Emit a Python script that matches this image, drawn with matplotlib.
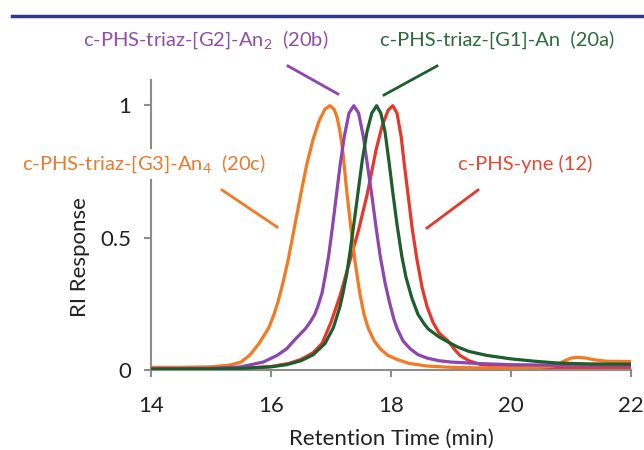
import matplotlib
matplotlib.use("Agg")
import matplotlib.pyplot as plt
from matplotlib.lines import Line2D

plt.rcParams['font.family'] = ['Lato', 'DejaVu Sans']
plt.rcParams['mathtext.fontset'] = 'custom'
plt.rcParams['mathtext.rm'] = 'Lato'
plt.rcParams['mathtext.it'] = 'Lato'

# ---- data ----
x_20c = [14.0, 14.5, 15.0, 15.3, 15.5, 15.65, 15.8, 15.96, 16.05, 16.12, 16.2, 16.29, 16.4, 16.51,
         16.6, 16.7, 16.8, 16.9, 16.98, 17.05, 17.1, 17.15, 17.2, 17.26, 17.33, 17.4, 17.48, 17.55,
         17.62, 17.72, 17.82, 17.95, 18.1, 18.3, 18.6, 19.0, 19.5, 20.0, 20.5, 20.7, 20.85, 21.0,
         21.1, 21.25, 21.4, 21.6, 22.0]
y_20c = [0.010, 0.010, 0.012, 0.018, 0.030, 0.057, 0.100, 0.158, 0.210, 0.260, 0.330, 0.420, 0.550, 0.680,
         0.780, 0.870, 0.940, 0.985, 0.998, 0.985, 0.955, 0.900, 0.820, 0.680, 0.540, 0.410, 0.290, 0.210,
         0.158, 0.110, 0.080, 0.055, 0.040, 0.025, 0.015, 0.010, 0.008, 0.008, 0.010, 0.015, 0.030, 0.045,
         0.048, 0.045, 0.038, 0.033, 0.032]

x_20b = [14.0, 15.0, 15.5, 15.87, 16.1, 16.26, 16.42, 16.57, 16.65, 16.73, 16.78, 16.85, 16.9, 16.96,
         17.03, 17.09, 17.15, 17.22, 17.3, 17.38, 17.46, 17.54, 17.61, 17.68, 17.75, 17.82, 17.9,
         17.97, 18.05, 18.1, 18.2, 18.32, 18.45, 18.6, 18.8, 19.0, 19.5, 20.0, 21.0, 22.0]
y_20b = [0.005, 0.006, 0.012, 0.030, 0.055, 0.080, 0.120, 0.155, 0.180, 0.210, 0.240, 0.290, 0.350, 0.430,
         0.550, 0.660, 0.770, 0.880, 0.970, 0.998, 0.970, 0.880, 0.770, 0.660, 0.540, 0.430, 0.330,
         0.260, 0.190, 0.158, 0.110, 0.080, 0.058, 0.045, 0.035, 0.030, 0.024, 0.020, 0.018, 0.017]

x_20a = [14.0, 15.0, 15.5, 16.0, 16.26, 16.5, 16.7, 16.9, 17.04, 17.15, 17.2, 17.26, 17.32, 17.38,
         17.45, 17.52, 17.6, 17.68, 17.76, 17.83, 17.9, 17.97, 18.03, 18.1, 18.18, 18.25, 18.35,
         18.45, 18.55, 18.62, 18.8, 18.9, 19.1, 19.3, 19.6, 20.0, 20.4, 20.8, 21.3, 22.0]
y_20a = [0.003, 0.004, 0.006, 0.012, 0.020, 0.035, 0.057, 0.100, 0.160, 0.240, 0.290, 0.360, 0.450, 0.550,
         0.670, 0.790, 0.900, 0.970, 0.998, 0.970, 0.900, 0.780, 0.670, 0.550, 0.430, 0.350, 0.270,
         0.210, 0.175, 0.155, 0.125, 0.112, 0.088, 0.070, 0.055, 0.042, 0.033, 0.026, 0.023, 0.022]

x_12 = [14.0, 15.0, 15.5, 16.0, 16.3, 16.5, 16.7, 16.85, 17.0, 17.15, 17.3, 17.45, 17.6, 17.68, 17.75,
        17.85, 17.95, 18.03, 18.1, 18.17, 18.22, 18.28, 18.35, 18.43, 18.52, 18.6, 18.7, 18.8, 18.95,
        19.05, 19.15, 19.3, 19.5, 20.0, 21.0, 22.0]
y_12 = [0.002, 0.003, 0.006, 0.013, 0.025, 0.040, 0.065, 0.100, 0.180, 0.280, 0.400, 0.520, 0.660, 0.750, 0.830,
        0.920, 0.980, 0.998, 0.970, 0.880, 0.780, 0.670, 0.540, 0.420, 0.310, 0.240, 0.180, 0.140, 0.110,
        0.080, 0.055, 0.035, 0.020, 0.010, 0.008, 0.007]

x_ticks = [14, 16, 18, 20, 22]
y_ticks = [0, 0.5, 1]
y_tick_labels = ['0', '0.5', '1']

C_ORANGE = '#f47920'
C_PURPLE = '#8d45b0'
C_GREEN = '#1c5e2c'
C_RED = '#e8372a'

fig = plt.figure(figsize=(6.44, 4.5), dpi=100)
ax = fig.add_axes([151/644, 80/450, 480/644, 290/450])

lw = 2.3
kw = dict(lw=lw, solid_joinstyle='round', solid_capstyle='round')
ax.plot(x_20c, y_20c, color=C_ORANGE, zorder=3, **kw)
ax.plot(x_20b, y_20b, color=C_PURPLE, zorder=4, **kw)
ax.plot(x_20a, y_20a, color=C_GREEN, zorder=5, **kw)
ax.plot(x_12, y_12, color=C_RED, zorder=2, **kw)

ax.set_xlim(14, 22)
ax.set_ylim(0, 1.095)
ax.set_xticks(x_ticks)
ax.set_yticks(y_ticks)
ax.set_yticklabels(y_tick_labels)

for s in ['top', 'right']:
    ax.spines[s].set_visible(False)
for s in ['left', 'bottom']:
    ax.spines[s].set_color('#8c8c8c')
    ax.spines[s].set_linewidth(1.5)
ax.tick_params(axis='x', direction='out', length=5, width=1.5, color='#8c8c8c',
               labelsize=16, pad=14, labelcolor='#222222')
ax.tick_params(axis='y', direction='out', length=5, width=1.5, color='#8c8c8c',
               labelsize=16, pad=9, labelcolor='#222222')

ax.set_xlabel('Retention Time (min)', fontsize=16, color='#222222', labelpad=9)

def px(x, y):
    return (x/644, 1 - y/450)

fig.text(*px(80, 257), 'RI Response', rotation=90, fontsize=16, color='#222222',
         ha='center', va='center')

# top rule
fig.add_artist(Line2D([12/644, 1.0], [1 - 16/450, 1 - 16/450], color='#2e3a8c', lw=2.5,
                      transform=fig.transFigure))

fs = 14.5
fig.text(*px(206, 40), 'c-PHS-triaz-[G2]-An$_2$  (20b)', color='#8e4fa6', fontsize=fs,
         ha='center', va='center')
fig.text(*px(497, 40), 'c-PHS-triaz-[G1]-An  (20a)', color='#2d6b3c', fontsize=fs,
         ha='center', va='center')
fig.text(*px(144, 164), 'c-PHS-triaz-[G3]-An$_4$  (20c)', color='#ea7a2e', fontsize=fs,
         ha='center', va='center', zorder=10,
         bbox=dict(facecolor='white', edgecolor='none', pad=3))
fig.text(*px(525, 164), 'c-PHS-yne (12)', color='#e44a36', fontsize=fs,
         ha='center', va='center')

def seg(p0, p1, c):
    a = px(*p0); b = px(*p1)
    fig.add_artist(Line2D([a[0], b[0]], [a[1], b[1]], color=c, lw=2.0, transform=fig.transFigure))

seg((288, 66), (338, 94), C_PURPLE)
seg((437, 66), (384, 95), C_GREEN)
seg((222, 190), (277, 227), C_ORANGE)
seg((478, 190), (427, 228), C_RED)

fig.savefig('out.png', dpi=100)
